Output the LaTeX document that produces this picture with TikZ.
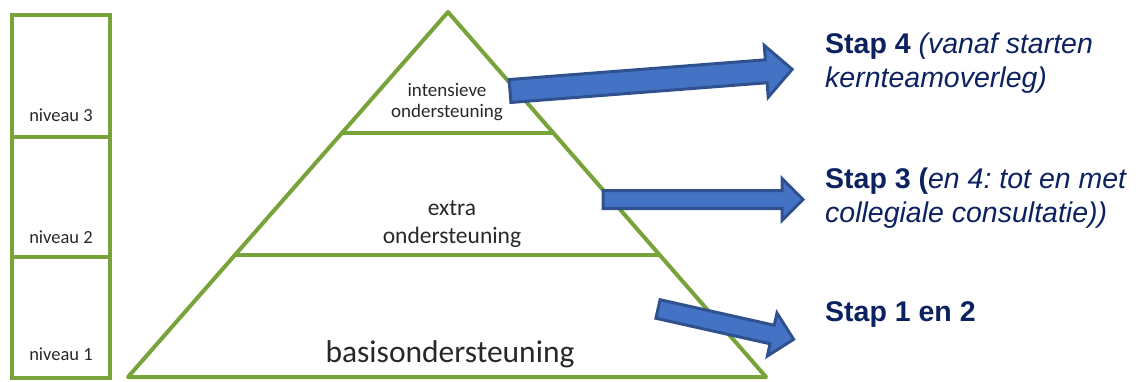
\documentclass[tikz,border=0pt]{standalone}
\usepackage{fontspec}
\setmainfont{Liberation Sans}
\newfontfamily\calibri{Carlito}
\usetikzlibrary{calc}
\frenchspacing

\definecolor{groen}{RGB}{120,162,58}
\definecolor{pijlblauw}{RGB}{68,114,196}
\definecolor{pijlrand}{RGB}{47,82,143}
\definecolor{stapblauw}{RGB}{12,34,96}
\definecolor{grijstekst}{RGB}{40,40,40}

% block arrow: tail, angle, length, shaft half width, head half width
\newcommand{\stappijl}[5]{%
  \draw[pijl,shift={(#1)},rotate=#2]
    (0,-#4) -- (#3-#5,-#4) -- (#3-#5,-#5) -- (#3,0)
    -- (#3-#5,#5) -- (#3-#5,#4) -- (0,#4) -- cycle;}

\begin{document}
\begin{tikzpicture}[x=1pt,y=1pt]
\tikzstyle{every node}=[inner sep=0pt]
\tikzstyle{kader}=[draw=groen,line width=3.5pt]
\tikzstyle{piramide}=[draw=groen,line width=4pt,line join=round]
\tikzstyle{pijl}=[fill=pijlblauw,draw=pijlrand,line width=3pt,line join=miter]
\tikzstyle{niveau}=[font=\calibri\fontsize{18.5}{22}\selectfont,text=grijstekst]
\tikzstyle{laag}=[align=center,text=grijstekst]
\tikzstyle{stap}=[align=left,anchor=west,text=stapblauw,
  font=\fontsize{28.5}{34}\selectfont]
\useasboundingbox (0,0) rectangle (1141,381);

% niveaus
\draw[kader] (12,3) rectangle (110,366);
\draw[kader] (12,124) -- (110,124);
\draw[kader] (12,244) -- (110,244);
\node[niveau] (niv3) at (61,266) {niveau 3};
\node[niveau] (niv2) at (61,144) {niveau 2};
\node[niveau] (niv1) at (61,27)  {niveau 1};

% piramide
\coordinate (top) at (448,369);
\coordinate (bl)  at (128,4);
\coordinate (br)  at (766,4);
\draw[piramide] (top) -- (bl) -- (br) -- cycle;
\draw[piramide] ($(top)!0.332!(bl)$) -- ($(top)!0.332!(br)$);
\draw[piramide] ($(top)!0.666!(bl)$) -- ($(top)!0.666!(br)$);
\node[laag,font=\calibri\fontsize{19}{21}\selectfont] (intensief) at (447,278.5)
  {intensieve\\ondersteuning};
\node[laag,font=\calibri\fontsize{23.5}{28}\selectfont] (extra) at (452,157)
  {extra\\ondersteuning};
\node[laag,font=\calibri\fontsize{31.5}{34}\selectfont] (basis) at (450,27)
  {basisondersteuning};

% pijlen
\coordinate (p4) at (510,290);
\coordinate (p3) at (603,181.5);
\coordinate (p1) at (658,72);
\stappijl{p4}{4.4}{283}{11.5}{26}
\stappijl{p3}{0}{200}{9}{21}
\stappijl{p1}{-12.6}{139}{9.5}{22}

% stappen
\node[stap] (stap4) at (825,318) {\textbf{Stap 4} \textit{(vanaf starten}\\\textit{kernteamoverleg)}};
\node[stap] (stap3) at (825,182.5) {\textbf{Stap 3 (}\textit{en 4: tot en met}\\\textit{collegiale consultatie))}};
\node[stap] (stap1) at (825,66) {\textbf{Stap 1 en 2}};
\end{tikzpicture}
\end{document}
